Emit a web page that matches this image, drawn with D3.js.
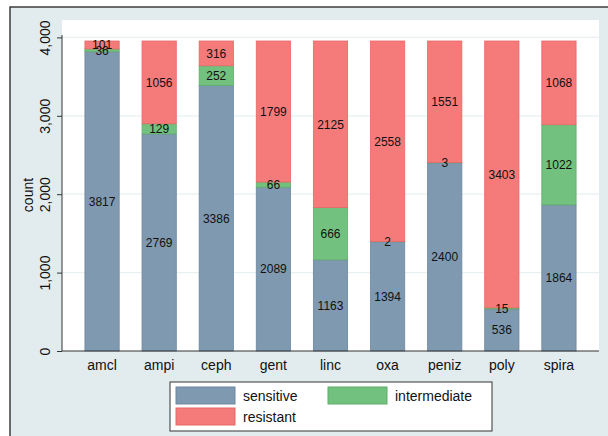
<!DOCTYPE html>
<html><head><meta charset="utf-8">
<script src="https://cdn.jsdelivr.net/npm/d3@7"></script>
<style>
html,body{margin:0;padding:0;background:#fff;}
svg text{font-family:"Liberation Sans",Arial,Helvetica,sans-serif;}
</style></head>
<body><svg id="c" width="608" height="436"></svg>
<script>
const categories = ["amcl","ampi","ceph","gent","linc","oxa","peniz","poly","spira"];
const sensitive    = [3817,2769,3386,2089,1163,1394,2400,536,1864];
const intermediate = [36,129,252,66,666,2,3,15,1022];
const resistant    = [101,1056,316,1799,2125,2558,1551,3403,1068];
const seriesNames = ["sensitive","intermediate","resistant"];
const seriesColors = ["#7f99b0","#72c17e","#f47b7a"];
const strokeColors = ["#6d879e","#5fae6b","#e86866"];
const yTicks = [0,1000,2000,3000,4000];

const svg = d3.select("#c");
svg.append("rect").attr("x",0).attr("y",0).attr("width",608).attr("height",436).attr("fill","#fff");
svg.append("rect").attr("x",10).attr("y",7).attr("width",600).attr("height",440)
  .attr("fill","#e2ecef").attr("stroke","#222").attr("stroke-width",1.3);

const plot = {l:62,r:599,t:20,b:351};
svg.append("rect").attr("x",plot.l).attr("y",plot.t).attr("width",plot.r-plot.l).attr("height",plot.b-plot.t).attr("fill","#fff");

const y = d3.scaleLinear().domain([0,4000]).range([351,37.4]);
const x = d3.scaleBand().domain(categories).range([73.5,587.5]).paddingInner(0.4).paddingOuter(0.2);

svg.append("g").selectAll("line").data(yTicks.filter(d=>d>0)).join("line")
  .attr("x1",plot.l).attr("x2",plot.r).attr("y1",d=>y(d)).attr("y2",d=>y(d))
  .attr("stroke","#e8f0f2").attr("stroke-width",1.2);

const rows = categories.map((c,i)=>({cat:c,sensitive:sensitive[i],intermediate:intermediate[i],resistant:resistant[i]}));
const stacked = d3.stack().keys(seriesNames)(rows);

const g = svg.append("g");
stacked.forEach((s,si)=>{
  g.append("g").selectAll("rect").data(s).join("rect")
    .attr("x",d=>x(d.data.cat)).attr("width",x.bandwidth())
    .attr("y",d=>y(d[1])).attr("height",d=>Math.max(0,y(d[0])-y(d[1])))
    .attr("fill",seriesColors[si]).attr("stroke",strokeColors[si]).attr("stroke-width",0.8);
});
stacked.forEach((s,si)=>{
  g.append("g").selectAll("text").data(s).join("text")
    .attr("x",d=>x(d.data.cat)+x.bandwidth()/2)
    .attr("y",d=>y((d[0]+d[1])/2))
    .attr("dy","0.36em").attr("text-anchor","middle")
    .attr("font-size",12).attr("fill","#111")
    .text(d=>d[1]-d[0]);
});

const yAxis = d3.axisLeft(y).tickValues(yTicks).tickSize(5).tickPadding(0).tickFormat(d3.format(","));
const ya = svg.append("g").attr("transform",`translate(${plot.l},0)`).call(yAxis);
ya.select(".domain").attr("d",`M0,${plot.t+15}V${plot.b}`).attr("stroke","#333");
ya.selectAll(".tick line").attr("stroke","#333");
ya.selectAll(".tick text").attr("transform","rotate(-90)").attr("x",0).attr("y",-12).attr("dy",0)
  .attr("text-anchor","middle").attr("font-size",14).attr("fill","#111");

const xAxis = d3.axisBottom(x).tickSize(0).tickPadding(9);
const xa = svg.append("g").attr("transform",`translate(0,${plot.b})`).call(xAxis);
xa.select(".domain").attr("d",`M${plot.l},0H${plot.r}`).attr("stroke","#333");
xa.selectAll(".tick text").attr("font-size",14).attr("fill","#111");

svg.append("text").attr("transform","translate(33,195) rotate(-90)").attr("text-anchor","middle")
  .attr("font-size",14).attr("fill","#111").text("count");

const lg = svg.append("g");
lg.append("rect").attr("x",170).attr("y",382).attr("width",322).attr("height",49).attr("fill","#fff").attr("stroke","#333");
const legPos = [[176,387],[328,387],[176,408]];
seriesNames.forEach((n,i)=>{
  const [lx,ly] = legPos[i];
  lg.append("rect").attr("x",lx).attr("y",ly).attr("width",59).attr("height",17)
    .attr("fill",seriesColors[i]).attr("stroke",strokeColors[i]);
  lg.append("text").attr("x",lx+67).attr("y",ly+9).attr("dy","0.36em").attr("font-size",14).attr("fill","#111").text(n);
});
</script></body></html>
